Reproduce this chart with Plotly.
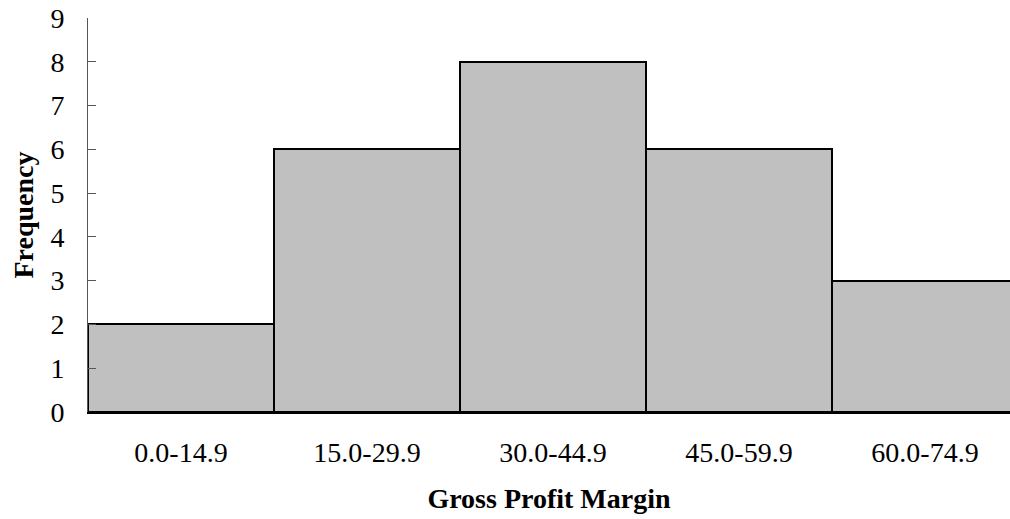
import plotly.graph_objects as go

categories = ["0.0-14.9", "15.0-29.9", "30.0-44.9", "45.0-59.9", "60.0-74.9"]
frequency = [2, 6, 8, 6, 3]
y_ticks = list(range(0, 10))

fig = go.Figure(go.Bar(
    x=list(range(len(categories))), y=frequency,
    marker=dict(color="#C0C0C0", line=dict(color="black", width=2)),
    width=1.0,
))

font = dict(family="Liberation Serif, Times New Roman, serif", color="black", size=28)

fig.update_layout(
    width=1010, height=519,
    margin=dict(l=88, r=0, t=18, b=107),
    paper_bgcolor="white", plot_bgcolor="white",
    font=font, bargap=0, showlegend=False,
    xaxis=dict(
        tickmode="array", tickvals=list(range(len(categories))), ticktext=categories,
        range=[-0.5, 4.457], showline=True, linecolor="black", linewidth=2,
        ticks="", showgrid=False, zeroline=False,
        tickfont=dict(size=28),
        title=dict(text="<b>Gross Profit Margin</b>", font=dict(size=28), standoff=22),
        ticklabelstandoff=14, automargin=False,
    ),
    yaxis=dict(
        range=[0, 9], tickvals=y_ticks, showline=True, linecolor="#555555", linewidth=1,
        ticks="inside", ticklen=8, tickcolor="#555555", showgrid=False, zeroline=False,
        tickfont=dict(size=28), ticklabeloverflow="allow",
        title=dict(text="<b>Frequency</b>", font=dict(size=28), standoff=8),
        ticklabelstandoff=17, automargin=False,
    ),
)

fig.write_html(
    "out.html",
    config={"responsive": False, "displayModeBar": False},
    post_script="document.body.style.margin='0px';document.body.style.overflow='hidden';",
)
